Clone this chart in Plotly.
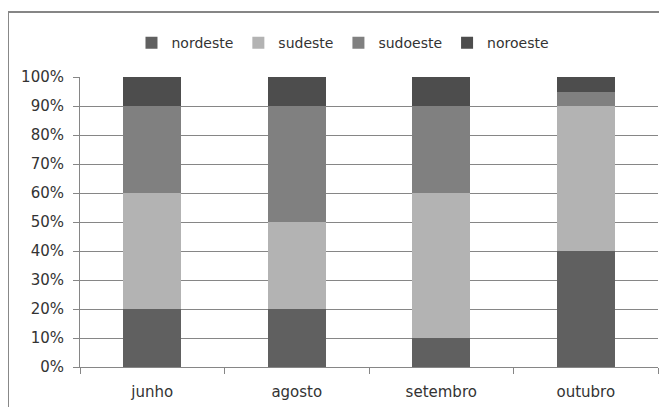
import plotly.graph_objects as go

categories = ["junho", "agosto", "setembro", "outubro"]
nordeste = [20, 20, 10, 40]
sudeste = [40, 30, 50, 50]
sudoeste = [30, 40, 30, 5]
noroeste = [10, 10, 10, 5]

series = [
    ("nordeste", nordeste, "#606060"),
    ("sudeste", sudeste, "#B3B3B3"),
    ("sudoeste", sudoeste, "#808080"),
    ("noroeste", noroeste, "#4D4D4D"),
]

fig = go.Figure()
for name, vals, color in series:
    fig.add_trace(go.Bar(x=categories, y=vals, name=name, marker=dict(color=color, line=dict(width=0))))

font = dict(family="DejaVu Sans", size=15, color="#333333")
fig.update_layout(
    width=659, height=399,
    margin=dict(l=72, r=9, t=69, b=40),
    barmode="stack", bargap=0.6,
    plot_bgcolor="white", paper_bgcolor="white",
    font=font,
    showlegend=True,
    legend=dict(orientation="h", x=0.455, xanchor="center", y=1.117, yanchor="middle",
                traceorder="normal", font=dict(family="DejaVu Sans", size=14, color="#333333"),
                itemwidth=30),
    xaxis=dict(showline=True, linecolor="#868686", ticks="outside", tickson="boundaries",
               ticklen=6, tickcolor="#868686", showgrid=False, ticklabelstandoff=11,
               automargin=False),
    yaxis=dict(range=[0, 100], dtick=10, ticksuffix="%", showline=True, linecolor="#868686",
               ticks="outside", ticklen=6, tickcolor="#868686", gridcolor="#868686",
               showgrid=True, zeroline=False, ticklabelstandoff=6, automargin=False),
    shapes=[
        dict(type="line", xref="paper", yref="paper", x0=-0.1246, x1=-0.1246, y0=-0.5, y1=1.224,
             line=dict(color="#868686", width=2)),
        dict(type="line", xref="paper", yref="paper", x0=-0.1246, x1=1.5, y0=1.224, y1=1.224,
             line=dict(color="#868686", width=2)),
    ],
)

fig.write_html("out.html")
